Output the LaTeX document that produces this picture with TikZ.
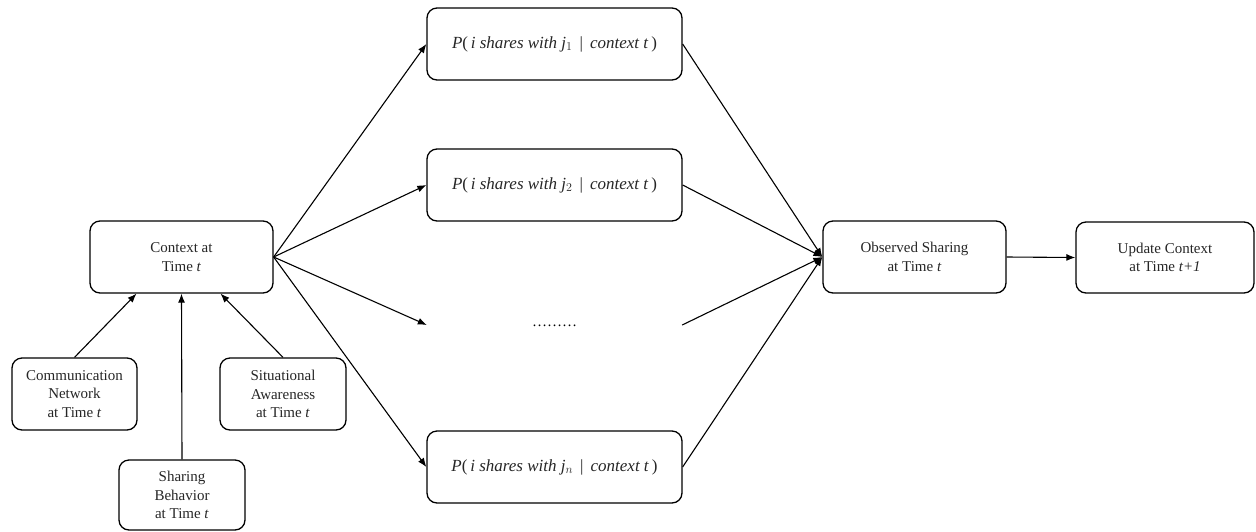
\documentclass[tikz,border=0pt]{standalone}
\usepackage{fontspec}
\setmainfont{Liberation Serif}
\usetikzlibrary{arrows.meta,calc}
\tikzset{
  box/.style={draw, rounded corners=10pt, line width=1.3pt, align=center,
    font=\fontsize{15}{18.3}\selectfont, inner sep=0pt, text=black!85},
  pbox/.style={box, minimum width=255pt, minimum height=72pt,
    font=\fontsize{17}{20}\selectfont},
  conn/.style={line width=1.1pt},
  arr/.style={conn, -{Latex[length=9pt,width=7pt]}}
}
\newcommand{\pshare}[1]{\textit{P}(\,\textit{i shares with j}$_{#1}$ \,|\, \textit{context t}\,)}
\begin{document}
\begin{tikzpicture}[x=1pt,y=-1pt]
\useasboundingbox (0,0) rectangle (1256,531);
\node[box, minimum width=183pt, minimum height=72pt] (ctx) at (181.5,257) {Context at\\Time \textit{t}};
\node[box, minimum width=125pt, minimum height=72pt] (comm) at (74.5,394) {Communication\\Network\\at Time \textit{t}};
\node[box, minimum width=126pt, minimum height=70pt] (shar) at (182,495) {Sharing\\Behavior\\at Time \textit{t}};
\node[box, minimum width=126pt, minimum height=72pt] (sit) at (283,394) {Situational\\Awareness\\at Time \textit{t}};
\node[pbox] (p1) at (554.5,44) {\pshare{1}};
\node[pbox] (p2) at (554.5,185) {\pshare{2}};
\node[minimum width=255pt, minimum height=20pt, inner sep=0pt, font=\fontsize{15}{18}\selectfont] (dots) at (554.5,325) {\raisebox{-4pt}{\ldots\ldots\ldots}};
\node[pbox] (pn) at (554.5,467) {\pshare{n}};
\node[box, minimum width=183pt, minimum height=72pt] (obs) at (914.5,257) {Observed Sharing\\at Time \textit{t}};
\node[box, minimum width=178pt, minimum height=71pt] (upd) at (1165,257.5) {Update Context\\at Time \textit{t+1}};

\draw[arr] (comm.north) -- ($(ctx.south)+(-45,0)$);
\draw[arr] (shar.north) -- (ctx.south);
\draw[arr] (sit.north) -- ($(ctx.south)+(39,0)$);

\draw[arr] (ctx.east) -- (p1.west);
\draw[arr] (ctx.east) -- (p2.west);
\draw[arr] (ctx.east) -- (dots.west);
\draw[arr] (ctx.east) -- (pn.west);

\draw[arr] (p1.east) -- (obs.west);
\draw[arr] (p2.east) -- (obs.west);
\draw[arr] (dots.east) -- (obs.west);
\draw[arr] (pn.east) -- (obs.west);

\draw[arr] (obs.east) -- (upd.west);
\end{tikzpicture}
\end{document}
